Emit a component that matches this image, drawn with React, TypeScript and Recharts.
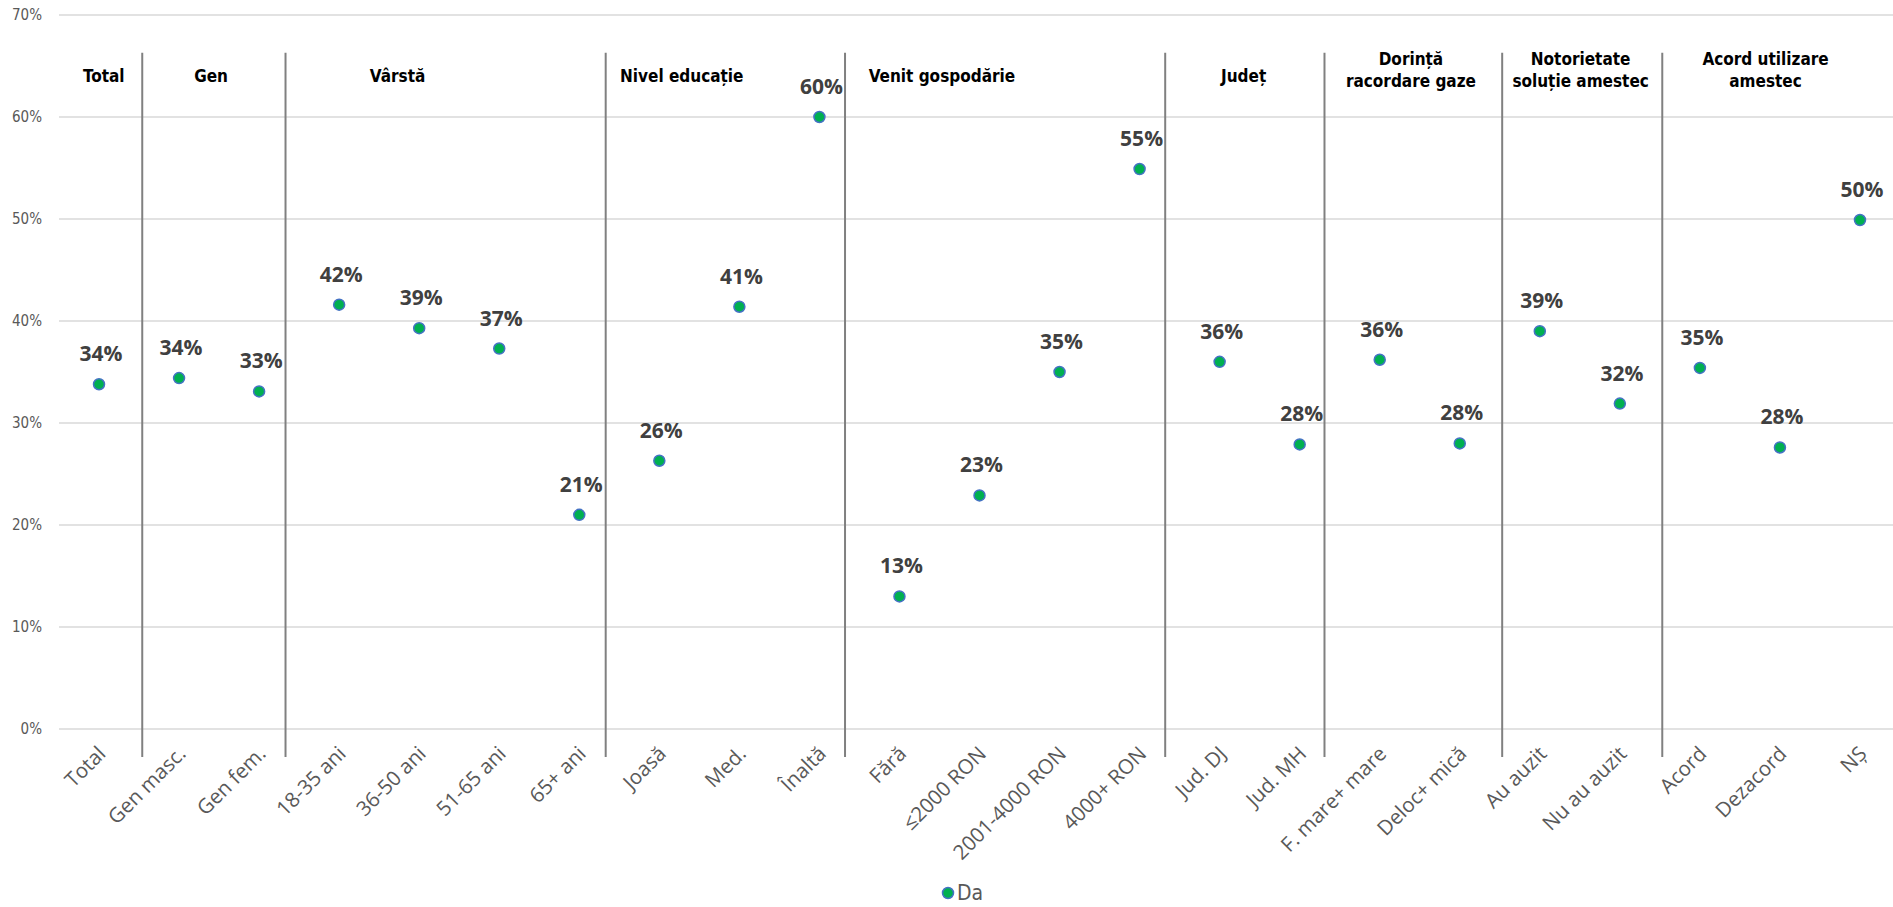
import {
  ScatterChart,
  Scatter,
  XAxis,
  YAxis,
  CartesianGrid,
  Legend,
  ReferenceLine,
  ReferenceDot,
} from 'recharts';

const categories = [
  'Total', 'Gen masc.', 'Gen fem.', '18-35 ani', '36-50 ani', '51-65 ani', '65+ ani',
  'Joasă', 'Med.', 'Înaltă', 'Fără', '≤2000 RON', '2001-4000 RON', '4000+ RON',
  'Jud. DJ', 'Jud. MH', 'F. mare+ mare', 'Deloc+ mică', 'Au auzit', 'Nu au auzit',
  'Acord', 'Dezacord', 'NȘ',
];
const daValues = [
  33.8, 34.4, 33.1, 41.6, 39.3, 37.3, 21.0, 26.3, 41.4, 60.0, 13.0, 22.9, 35.0, 54.9,
  36.0, 27.9, 36.2, 28.0, 39.0, 31.9, 35.4, 27.6, 49.9,
];
const yTicks = [0, 10, 20, 30, 40, 50, 60, 70];

// group titles and where they sit (in category index units)
const groupTitles = [
  ['Total'], ['Gen'], ['Vârstă'], ['Nivel educație'], ['Venit gospodărie'], ['Județ'],
  ['Dorință', 'racordare gaze'], ['Notorietate', 'soluție amestec'], ['Acord utilizare', 'amestec'],
];
const groupTitlePos = [0.06, 1.4, 3.73, 7.28, 10.53, 14.3, 16.39, 18.51, 20.82];
const groupBreaks = [0.54, 2.33, 6.33, 9.32, 13.32, 15.31, 17.53, 19.53];

const data = categories.map((name, i) => ({ idx: i, value: daValues[i], name }));

const labelFont = '"Open Sans", sans-serif';
const condFont = '"DejaVu Sans Condensed", "DejaVu Sans", sans-serif';

const Marker = (props: any) => {
  const { cx, cy, payload } = props;
  return (
    <g>
      <circle cx={cx} cy={cy} r={5.5} fill="#00B050" stroke="#4472C4" strokeWidth={1.5} />
      <text
        x={cx + 2}
        y={cy - 23}
        textAnchor="middle"
        fontFamily={labelFont}
        fontWeight="bold"
        fontSize={21}
        fill="#404040"
      >
        {Math.round(payload.value)}%
      </text>
    </g>
  );
};

const XTick = (props: any) => {
  const { x, y, payload } = props;
  return (
    <text
      x={x + 8}
      y={y + 18}
      textAnchor="end"
      transform={`rotate(-45, ${x + 8}, ${y + 18})`}
      fontFamily={labelFont}
      fontSize={20.5}
      fill="#595959"
    >
      {categories[payload.value]}
    </text>
  );
};

const GroupTitle = (lines: string[]) => (props: any) => {
  const { cx, cy } = props;
  const offsets = lines.length === 1 ? [6] : [-11, 11];
  return (
    <text textAnchor="middle" fontFamily={condFont} fontWeight="bold" fontSize={17} fill="#000">
      {lines.map((l, i) => (
        <tspan key={i} x={cx} y={cy + offsets[i]}>
          {l}
        </tspan>
      ))}
    </text>
  );
};

const LegendContent = () => (
  <div
    style={{
      display: 'flex',
      justifyContent: 'center',
      alignItems: 'center',
      height: 28,
      paddingLeft: 24,
      fontFamily: condFont,
      fontSize: 21,
      color: '#595959',
    }}
  >
    <svg width={14} height={14} style={{ marginRight: 2 }}>
      <circle cx={7} cy={7} r={5.5} fill="#00B050" stroke="#4472C4" strokeWidth={1.5} />
    </svg>
    <span>Da</span>
  </div>
);

export default function App() {
  return (
    <div style={{ position: 'absolute', left: 0, top: 0, background: '#fff' }}>
      <ScatterChart width={1893} height={907} margin={{ top: 15, right: -7, left: 0, bottom: 0 }}>
        <CartesianGrid vertical={false} stroke="#d9d9d9" strokeWidth={1.5} />
        <XAxis
          type="number"
          dataKey="idx"
          domain={[-0.5, 22.5]}
          ticks={categories.map((_, i) => i)}
          interval={0}
          axisLine={false}
          tickLine={false}
          height={150}
          tick={<XTick />}
        />
        <YAxis
          type="number"
          dataKey="value"
          domain={[0, 70]}
          ticks={yTicks}
          width={59}
          axisLine={false}
          tickLine={false}
          tickMargin={11}
          tickFormatter={(v: number) => `${v}%`}
          tick={{ fontFamily: condFont, fontSize: 15, fill: '#595959' }}
        />
        {groupBreaks.map((b, i) => (
          <ReferenceLine
            key={`b${i}`}
            segment={[
              { x: b, y: 66.3 },
              { x: b, y: -2.75 },
            ]}
            stroke="#808080"
            strokeWidth={2}
            ifOverflow="visible"
          />
        ))}
        {groupTitles.map((lines, i) => (
          <ReferenceDot
            key={`t${i}`}
            x={groupTitlePos[i]}
            y={64}
            r={0}
            shape={GroupTitle(lines)}
            ifOverflow="visible"
          />
        ))}
        <Legend verticalAlign="bottom" height={28} content={<LegendContent />} />
        <Scatter name="Da" data={data} shape={<Marker />} isAnimationActive={false} />
      </ScatterChart>
    </div>
  );
}
